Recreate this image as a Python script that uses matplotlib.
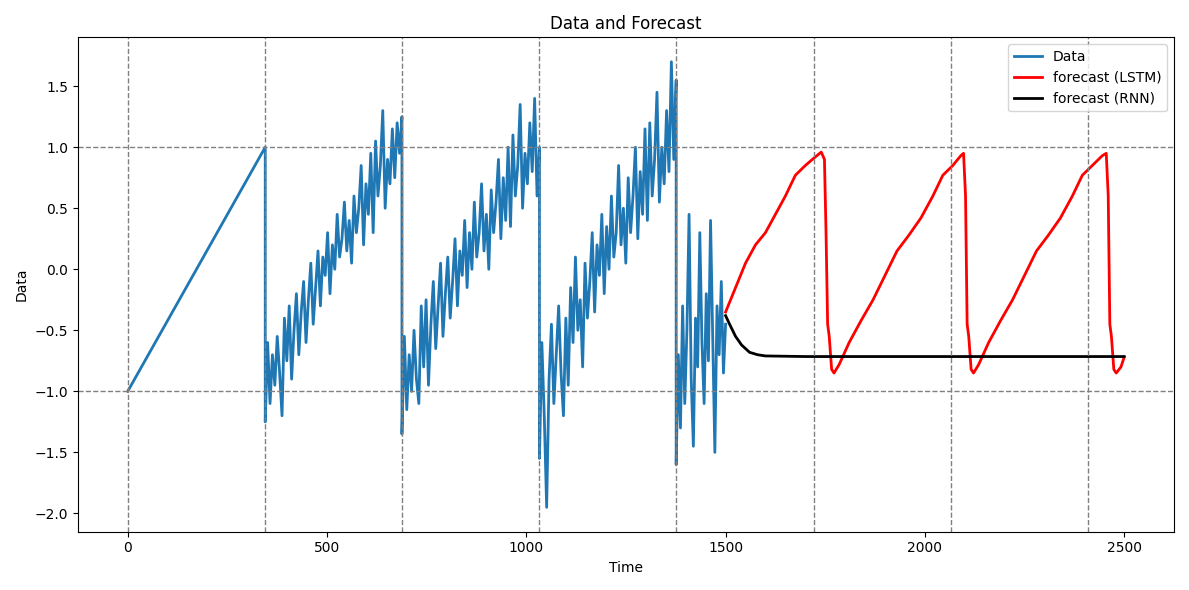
import numpy as np
import matplotlib
matplotlib.use('Agg')
import matplotlib.pyplot as plt

# readings from the reference
ramp_t = [0, 345]
ramp_v = [-1.0, 1.0]

seg_bounds = [(345, 688), (688, 1033), (1033, 1376), (1376, 1500)]
seg_values = [
    [-1.25, -0.6, -1.1, -0.7, -0.95, -0.55, -0.85, -1.2, -0.4, -0.75, -0.3, -0.9, -0.5, -0.2,
     -0.7, -0.35, -0.1, -0.6, -0.25, 0.05, -0.45, -0.15, 0.15, -0.3, 0.1, -0.05, 0.3, -0.2,
     0.2, 0.0, 0.45, 0.1, 0.25, 0.55, 0.15, 0.4, 0.05, 0.6, 0.3, 0.5, 0.85, 0.2, 0.7, 0.45,
     0.95, 0.3, 1.05, 0.6, 0.85, 1.3, 0.5, 0.9, 0.7, 1.15, 0.75, 1.2, 0.95, 1.25],
    [-1.35, -0.55, -1.15, -0.7, -1.0, -0.5, -0.9, -1.1, -0.3, -0.8, -0.25, -0.95, -0.45, -0.1,
     -0.65, -0.3, 0.05, -0.55, -0.2, 0.1, -0.4, -0.1, 0.25, -0.3, 0.15, -0.05, 0.4, -0.15,
     0.3, 0.0, 0.55, 0.1, 0.3, 0.7, 0.15, 0.45, 0.0, 0.65, 0.3, 0.55, 0.9, 0.25, 0.75, 0.4,
     1.0, 0.35, 1.1, 0.6, 0.85, 1.35, 0.5, 0.95, 0.7, 1.2, 0.8, 1.4, 0.6, 1.0],
    [-1.55, -0.6, -1.2, -1.95, -0.9, -0.45, -1.1, -0.7, -0.3, -0.85, -1.2, -0.4, -0.95, -0.15,
     -0.6, 0.1, -0.5, -0.25, -0.8, 0.05, -0.4, -0.1, 0.3, -0.35, 0.2, -0.05, 0.45, -0.2,
     0.35, 0.0, 0.6, 0.1, 0.3, 0.85, 0.2, 0.5, 0.05, 0.75, 0.3, 0.6, 1.0, 0.25, 0.8, 0.45,
     1.15, 0.4, 1.2, 0.6, 0.9, 1.45, 0.55, 1.0, 0.7, 1.3, 0.8, 1.7, 0.9, 1.55],
    [-1.6, -0.7, -1.3, -0.3, -1.1, -0.5, 0.45, -0.9, -1.45, -0.4, -0.8, 0.3, -0.6, -1.1,
     -0.2, -0.75, 0.4, -0.55, -1.5, -0.3, -0.7, -0.1, -0.85, -0.45],
]

lstm_t = [1500, 1525, 1550, 1575, 1600, 1625, 1650, 1675, 1700, 1725, 1740, 1748, 1752, 1756,
          1760, 1766, 1772, 1785, 1810, 1840, 1870, 1900, 1930, 1960, 1990, 2020, 2045, 2070,
          2090, 2097, 2102, 2106, 2110, 2116, 2122, 2135, 2160, 2190, 2220, 2250, 2280, 2310,
          2340, 2370, 2395, 2420, 2445, 2455, 2460, 2464, 2468, 2474, 2480, 2492, 2500]
lstm_v = [-0.35, -0.15, 0.05, 0.2, 0.3, 0.45, 0.6, 0.77, 0.85, 0.92, 0.96, 0.9, 0.3, -0.45,
          -0.55, -0.82, -0.85, -0.78, -0.6, -0.42, -0.25, -0.05, 0.15, 0.28, 0.42, 0.6, 0.77, 0.85,
          0.93, 0.95, 0.6, -0.45, -0.55, -0.82, -0.85, -0.78, -0.6, -0.42, -0.25, -0.05, 0.15, 0.28,
          0.42, 0.6, 0.77, 0.85, 0.93, 0.95, 0.6, -0.45, -0.55, -0.82, -0.85, -0.8, -0.72]

rnn_t = [1500, 1510, 1525, 1540, 1560, 1580, 1600, 1700, 2500]
rnn_v = [-0.38, -0.45, -0.55, -0.62, -0.68, -0.70, -0.71, -0.715, -0.715]

vlines = [345, 688, 1033, 1376, 1721, 2066, 2410]

data_t = list(ramp_t)
data_v = list(ramp_v)
for (a, b), vals in zip(seg_bounds, seg_values):
    data_t += list(np.linspace(a, b, len(vals)))
    data_v += vals

fig, ax = plt.subplots(figsize=(11.89, 5.9), dpi=100)
ax.plot(data_t, data_v, color='#1f77b4', lw=2, label='Data')
ax.plot(lstm_t, lstm_v, color='red', lw=2, label='forecast (LSTM)')
ax.plot(rnn_t, rnn_v, color='black', lw=2, label='forecast (RNN)')
ax.axvline(0, color='gray', ls='--', lw=1)
for v in vlines:
    ax.axvline(v, color='gray', ls='--', lw=1)
ax.axhline(1, color='gray', ls='--', lw=1)
ax.axhline(-1, color='gray', ls='--', lw=1)

ax.set_xlim(-125, 2625)
ax.set_ylim(-2.15, 1.9)
ax.set_xlabel('Time')
ax.set_ylabel('Data')
ax.set_title('Data and Forecast')
ax.legend(loc='upper right')

fig.tight_layout()
fig.savefig('out.png')
